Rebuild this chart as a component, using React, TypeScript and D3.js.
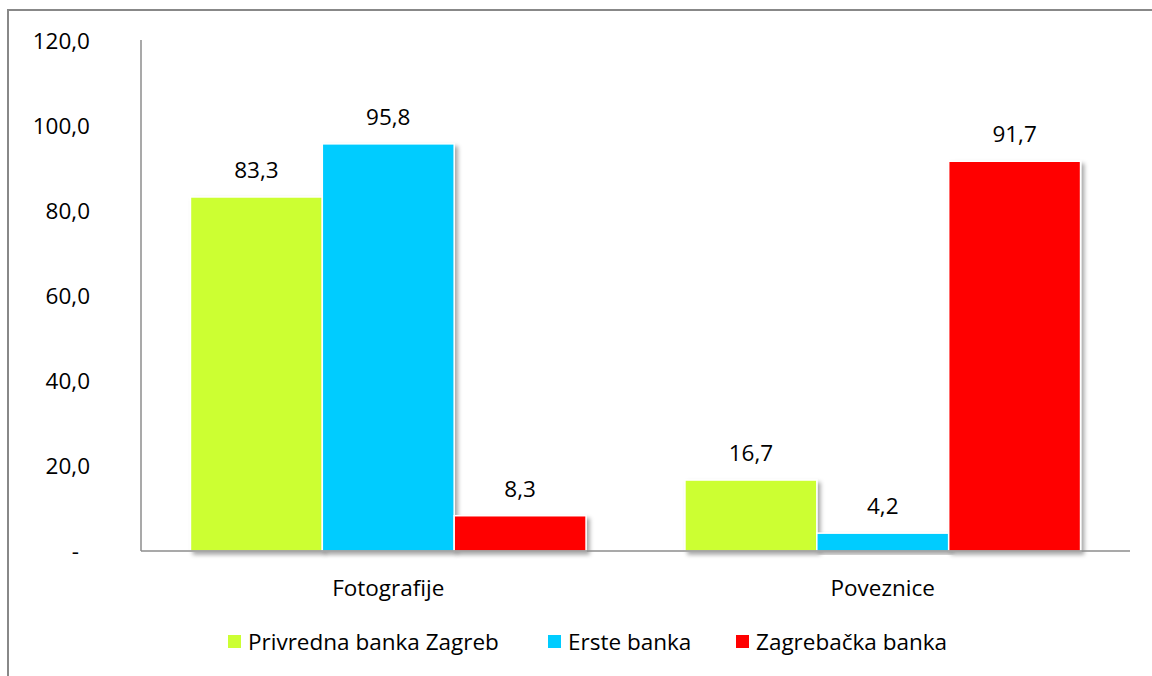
import React from "react";
import * as d3 from "d3";

const categories = ["Fotografije", "Poveznice"];
const seriesNames = ["Privredna banka Zagreb", "Erste banka", "Zagrebačka banka"];
const seriesColors = ["#ccff33", "#00ccff", "#ff0000"];
const pbzValues = [83.3, 16.7];
const ersteValues = [95.8, 4.2];
const zabaValues = [8.3, 91.7];
const yTicks = [0, 20, 40, 60, 80, 100, 120];

const W = 1152;
const H = 676;
const margin = { left: 141, right: 22, top: 41, bottom: 125 };
const FONT = "'Open Sans', 'Noto Sans', sans-serif";
const FS = 22.5;

export default function App() {
  const values = [pbzValues, ersteValues, zabaValues];
  const x0 = d3.scaleBand<string>().domain(categories).range([margin.left, W - margin.right]).paddingInner(0.2).paddingOuter(0.1);
  const x1 = d3.scaleBand<number>().domain([0, 1, 2]).range([0, x0.bandwidth()]).padding(0);
  const y = d3.scaleLinear().domain([0, 120]).range([H - margin.bottom, margin.top]);
  const fmt = (v: number) => (v === 0 ? "-" : v.toFixed(1).replace(".", ","));
  const baseY = y(0);

  const legendX = [228, 548, 736];

  return (
    <svg width={W} height={H} style={{ position: "absolute", left: 0, top: 0 }}>
      <defs>
        <filter id="sh" x="-10%" y="-10%" width="130%" height="130%">
          <feDropShadow dx="3" dy="3" stdDeviation="2" floodColor="#000" floodOpacity="0.35" />
        </filter>
      </defs>
      <rect x={0} y={0} width={W} height={H} fill="#fff" />
      <rect x={8} y={10} width={W + 20} height={H + 20} fill="none" stroke="#888" strokeWidth={2} />
      {yTicks.map((t) => (
        <text key={t} x={t === 0 ? 79 : 90} y={y(t)} dy="0.35em" textAnchor="end" fontFamily={FONT} fontSize={FS} fill="#000">
          {fmt(t)}
        </text>
      ))}
      {categories.map((c, ci) => (
        <g key={c}>
          {values.map((vals, si) => {
            const bx = (x0(c) as number) + (x1(si) as number);
            const bw = x1.bandwidth();
            const v = vals[ci];
            return (
              <g key={si}>
                <rect x={bx} y={y(v)} width={bw} height={baseY - y(v)} fill={seriesColors[si]} stroke="#fff" strokeWidth={1.5} filter="url(#sh)" />
                <text x={bx + bw / 2} y={y(v) - 27} dy="0.35em" textAnchor="middle" fontFamily={FONT} fontSize={FS} fill="#000">
                  {fmt(v)}
                </text>
              </g>
            );
          })}
          <text x={(x0(c) as number) + x0.bandwidth() / 2} y={588} dy="0.35em" textAnchor="middle" fontFamily={FONT} fontSize={FS} fill="#000">
            {c}
          </text>
        </g>
      ))}
      <line x1={margin.left} x2={margin.left} y1={margin.top - 1} y2={baseY} stroke="#8c8c8c" strokeWidth={1.5} />
      <line x1={margin.left} x2={W - margin.right} y1={baseY} y2={baseY} stroke="#8c8c8c" strokeWidth={1.5} />
      {seriesNames.map((n, i) => (
        <g key={n}>
          <rect x={legendX[i]} y={635} width={13} height={13} fill={seriesColors[i]} />
          <text x={legendX[i] + 20} y={642} dy="0.35em" fontFamily={FONT} fontSize={FS} fill="#000">
            {n}
          </text>
        </g>
      ))}
    </svg>
  );
}
